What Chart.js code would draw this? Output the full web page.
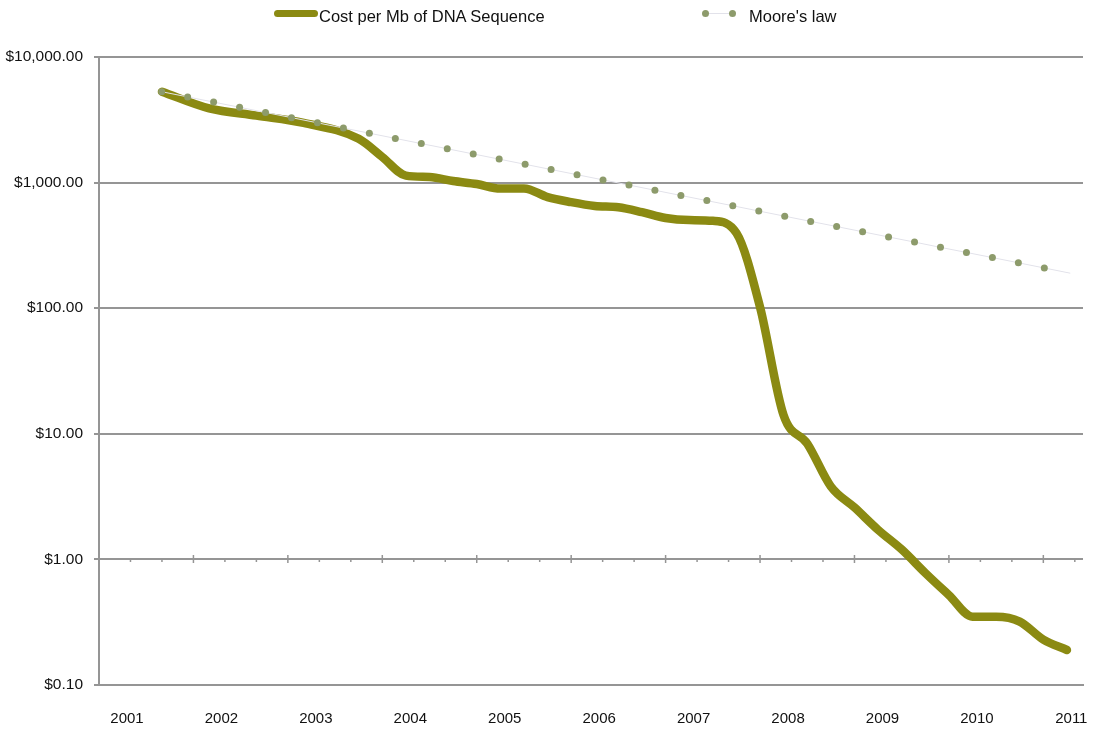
<!DOCTYPE html>
<html>
<head>
<meta charset="utf-8">
<script src="https://cdn.jsdelivr.net/npm/chart.js@4.4.1/dist/chart.umd.min.js"></script>
<style>
  body { margin: 0; background: #fff; }
  #wrap { position: relative; width: 1100px; height: 737px; font-family: "Liberation Sans", Arial, Helvetica, sans-serif; color: #111; }
  .lg-text { position: absolute; top: 6px; font-size: 16.5px; line-height: 20px; white-space: nowrap; }
  .lg-bar { position: absolute; left: 274px; top: 10px; width: 44px; height: 7px; border-radius: 4px; background: #8b8a12; }
  .lg-thin { position: absolute; left: 705px; top: 13px; width: 27px; height: 1px; background: #e2e2ea; }
  .lg-dot { position: absolute; top: 10px; width: 7px; height: 7px; border-radius: 50%; background: #8d9b6b; }
</style>
</head>
<body>
<div id="wrap">
  <canvas id="costChart"></canvas>
  <div class="lg-bar"></div>
  <div class="lg-text" style="left:319px">Cost per Mb of DNA Sequence</div>
  <div class="lg-thin"></div>
  <div class="lg-dot" style="left:702px"></div>
  <div class="lg-dot" style="left:729px"></div>
  <div class="lg-text" style="left:749px">Moore's law</div>
</div>
<script>
// Coste por megabase (NHGRI), fechas año-mes
const costDates = ['2001-09', '2002-03', '2002-09', '2003-03', '2003-10',
    '2004-01', '2004-04', '2004-07', '2004-10', '2005-01', '2005-04', '2005-07', '2005-10',
    '2006-01', '2006-04', '2006-07', '2006-10', '2007-01', '2007-04', '2007-07', '2007-10',
    '2008-01', '2008-04', '2008-07', '2008-10', '2009-01', '2009-04', '2009-07', '2009-10',
    '2010-01', '2010-04', '2010-07', '2010-10', '2011-01', '2011-04'];
const costValues = [5292, 3899, 3414, 2986, 2231,
    1599, 1136, 1107, 1029, 974, 898, 899, 767,
    699, 652, 636, 582, 523, 503, 496, 397,
    102, 14.0, 8.36, 3.81, 2.59, 1.72, 1.20, 0.78,
    0.52, 0.35, 0.35, 0.32, 0.23, 0.19];

// Puntos de la ley de Moore (equiespaciados en el gráfico)
const mooreValues = [5292, 4812, 4376, 3979, 3618, 3290, 2992, 2720, 2474, 2249,
    2045, 1860, 1691, 1538, 1398, 1271, 1156, 1051, 956, 869,
    790, 719, 654, 594, 540, 491, 447, 406, 369, 336,
    305, 278, 253, 230, 209, 190];

const yearLabels = ['2001', '2002', '2003', '2004', '2005', '2006', '2007', '2008', '2009', '2010', '2011'];
const yTickValues = [0.1, 1, 10, 100, 1000, 10000];

const OLIVE = '#8b8a12';
const GRID = '#959595';
const TEXT = '#111';
const FONT = '"Liberation Sans", Arial, Helvetica, sans-serif';

const toYear = (s) => {
    const [y, m] = s.split('-').map(Number);
    return y + (m - 1) / 12;
};

// Marcas del eje X sobre la línea de $1.00 (cada 4 meses)
const axisAtOne = {
    id: 'axisAtOne',
    beforeDatasetsDraw(chart) {
        const x = chart.scales.x;
        const y0 = Math.round(chart.scales.y.getPixelForValue(1));
        const ctx = chart.ctx;
        ctx.save();
        ctx.strokeStyle = GRID;
        ctx.lineWidth = 1.5;
        for (let k = 1; 2001 + k / 3 <= x.max; k++) {
            const px = x.getPixelForValue(2001 + k / 3);
            const major = k % 3 === 0;
            ctx.beginPath();
            ctx.moveTo(px, major ? y0 - 4 : y0);
            ctx.lineTo(px, y0 + (major ? 4 : 3));
            ctx.stroke();
        }
        ctx.restore();
    }
};

new Chart(document.getElementById('costChart'), {
    type: 'line',
    data: {
        datasets: [
            {
                label: 'Cost per Mb of DNA Sequence',
                data: costDates.map((d, i) => ({ x: toYear(d), y: costValues[i] })),
                xAxisID: 'x',
                borderColor: OLIVE,
                borderWidth: 8.5,
                borderCapStyle: 'round',
                borderJoinStyle: 'round',
                cubicInterpolationMode: 'monotone',
                pointRadius: 0,
                order: 2
            },
            {
                label: "Moore's law",
                data: mooreValues.map((v, i) => ({ x: i, y: v })),
                xAxisID: 'xm',
                borderColor: '#e2e2ea',
                borderWidth: 1,
                tension: 0,
                pointRadius: (c) => (c.dataIndex < mooreValues.length - 1 ? 3.5 : 0),
                pointBackgroundColor: '#8d9b6b',
                pointBorderWidth: 0,
                order: 1
            }
        ]
    },
    options: {
        responsive: true,
        maintainAspectRatio: false,
        animation: false,
        layout: { padding: { top: 57, right: 17, left: 0, bottom: 0 } },
        plugins: {
            legend: { display: false },
            tooltip: { enabled: false }
        },
        scales: {
            x: {
                type: 'linear',
                position: 'bottom',
                min: 2001,
                max: 2011.42,
                afterBuildTicks: (s) => { s.ticks = yearLabels.map((l) => ({ value: Number(l) })); },
                afterFit: (s) => { s.height = 52; },
                grid: { drawOnChartArea: false, drawTicks: false },
                border: { display: true, color: GRID, width: 2 },
                ticks: {
                    callback: (v) => String(v),
                    labelOffset: 28,
                    padding: 25,
                    maxRotation: 0,
                    autoSkip: false,
                    color: TEXT,
                    font: { family: FONT, size: 15 }
                }
            },
            xm: {
                type: 'linear',
                display: false,
                min: -2.415,
                max: 35.49
            },
            y: {
                type: 'logarithmic',
                min: 0.1,
                max: 10000,
                afterBuildTicks: (s) => { s.ticks = yTickValues.map((v) => ({ value: v })); },
                afterFit: (s) => { s.width = 99; },
                grid: { color: GRID, lineWidth: 2, tickLength: 5 },
                border: { display: true, color: GRID, width: 2 },
                ticks: {
                    callback: (v) => '$' + Number(v).toLocaleString('en-US', { minimumFractionDigits: 2, maximumFractionDigits: 2 }),
                    padding: 11,
                    color: TEXT,
                    font: { family: FONT, size: 15.5 }
                }
            }
        }
    },
    plugins: [axisAtOne]
});
</script>
</body>
</html>
